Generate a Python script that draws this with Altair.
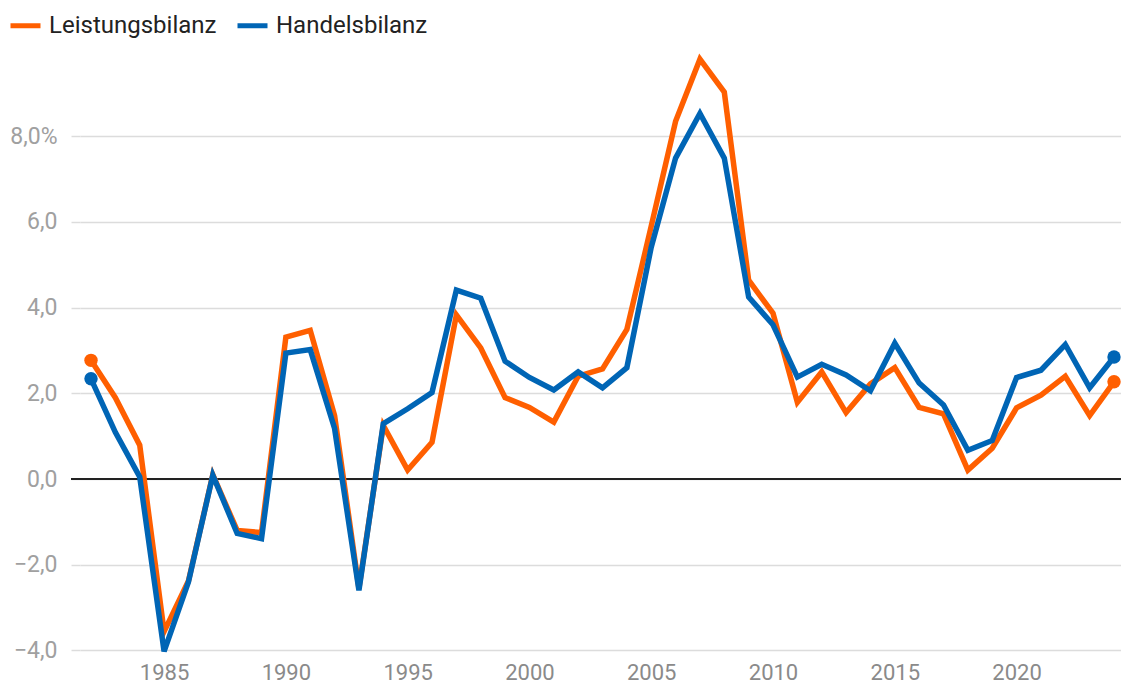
import altair as alt
import pandas as pd

years = list(range(1982, 2025))
series = ["Leistungsbilanz", "Handelsbilanz"]
colors = ["#FF5F00", "#0065B5"]

leistung = [2.77, 1.9, 0.79, -3.56, -2.38, 0.1, -1.2, -1.25, 3.31, 3.47,
            1.48, -2.55, 1.25, 0.21, 0.86, 3.83, 3.06, 1.9, 1.67, 1.33,
            2.4, 2.57, 3.49, 5.9, 8.35, 9.8, 9.03, 4.64, 3.87, 1.79,
            2.5, 1.55, 2.22, 2.6, 1.67, 1.52, 0.21, 0.72, 1.66, 1.96,
            2.4, 1.48, 2.27]
handels = [2.34, 1.09, 0.05, -4.02, -2.4, 0.09, -1.27, -1.39, 2.94, 3.02,
           1.18, -2.6, 1.29, 1.64, 2.02, 4.41, 4.22, 2.75, 2.37, 2.08,
           2.5, 2.13, 2.6, 5.41, 7.49, 8.53, 7.49, 4.25, 3.6, 2.38,
           2.68, 2.43, 2.06, 3.17, 2.24, 1.73, 0.67, 0.9, 2.37, 2.54,
           3.14, 2.13, 2.85]

x_ticks = [1985, 1990, 1995, 2000, 2005, 2010, 2015, 2020]
y_ticks = [-4, -2, 0, 2, 4, 6, 8]

df = pd.DataFrame({
    "Jahr": years + years,
    "Wert": leistung + handels,
    "Reihe": [series[0]] * len(years) + [series[1]] * len(years),
})

W, H = 1041, 617

x_enc = alt.X("Jahr:Q",
              scale=alt.Scale(domain=[1981.548, 2024.287], nice=False, zero=False),
              axis=alt.Axis(values=x_ticks, format="d", title=None, grid=False,
                            ticks=False, domain=False, labelFontSize=22,
                            labelColor="#8a8a8a", labelPadding=3,
                            labelFlush=False))
y_enc = alt.Y("Wert:Q",
              scale=alt.Scale(domain=[-4.2, 10.2], nice=False, zero=False),
              axis=alt.Axis(values=y_ticks, title=None, grid=True,
                            gridColor="#dcdcdc", gridWidth=1.5,
                            tickColor="#dcdcdc", tickSize=9, tickWidth=1.5,
                            domain=False, labelFontSize=23, labelColor="#a0a0a0",
                            labelPadding=14,
                            labelExpr="datum.value == 8 ? '8,0%' : replace(format(datum.value, '.1f'), '.', ',')"))

color_enc = alt.Color("Reihe:N",
                      scale=alt.Scale(domain=series, range=colors),
                      legend=alt.Legend(title=None, orient="none", legendX=-72,
                                        legendY=-34, direction="horizontal",
                                        symbolType="stroke", symbolStrokeWidth=5,
                                        symbolSize=900, labelFontSize=24,
                                        labelColor="#222222", columnPadding=10,
                                        labelOffset=6, labelLimit=0))

base = alt.Chart(df)

zero = alt.Chart(pd.DataFrame({"z": [0]})).mark_rule(color="#222222", strokeWidth=2).encode(
    y=alt.Y("z:Q"), x=alt.value(-9), x2=alt.value(W))

lines = base.mark_line(strokeWidth=5.5).encode(
    x=x_enc, y=y_enc, color=color_enc, order=alt.Order("Jahr:Q"))

points = base.transform_filter(
    "datum.Jahr == 1982 || datum.Jahr == 2024"
).mark_circle(size=180, opacity=1).encode(x="Jahr:Q", y="Wert:Q", color=color_enc)

chart = alt.layer(zero, lines, points).properties(
    width=W, height=H,
    padding={"left": 72, "top": 34, "right": 0, "bottom": 28},
    autosize=alt.AutoSizeParams(type="none"),
).configure(font="Roboto").configure_view(stroke=None, strokeWidth=0)

chart.save("out.html", embed_options={"renderer": "svg", "actions": False})
